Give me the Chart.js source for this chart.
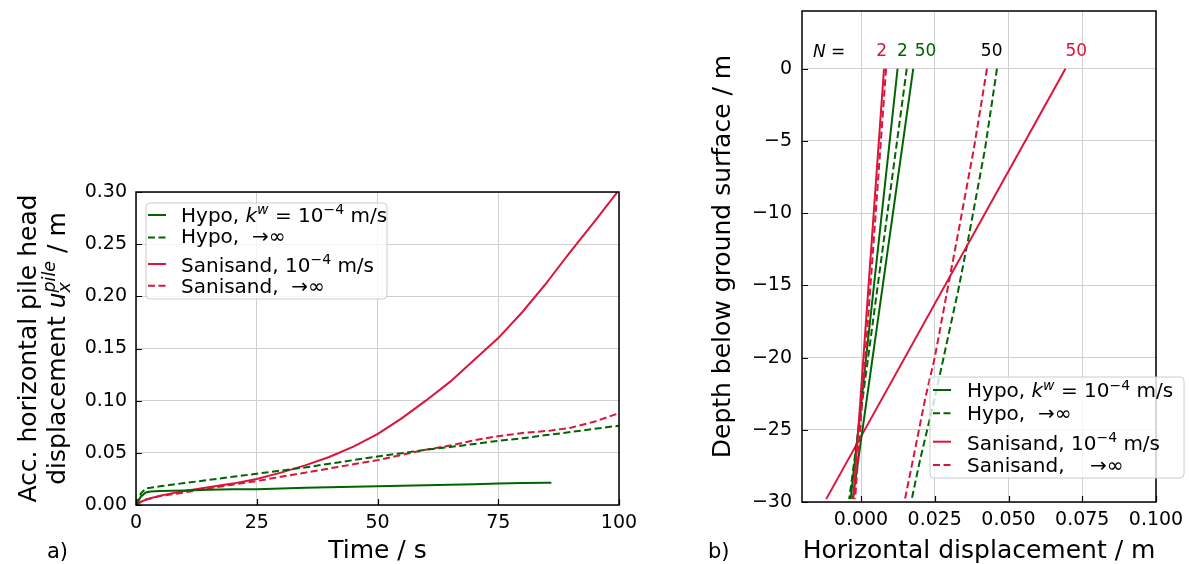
<!DOCTYPE html>
<html><head><meta charset="utf-8">
<script src="https://cdn.jsdelivr.net/npm/chart.js@4"></script>
<style>
html,body{margin:0;padding:0;background:#fff;}
#wrap{position:relative;width:1189px;height:564px;overflow:hidden;}
canvas{position:absolute;left:0;top:0;}
</style></head><body>
<div id="wrap"><canvas id="ca" width="1189" height="564"></canvas><canvas id="cb" width="1189" height="564"></canvas></div>
<script>
// ---------- data: panel a) ----------
const TIME     = [0,1,2,3,5,10,15,20,25,30,35,40,45,50,55,60,65,70,75,80,85,86,90,95,100];
const HYPO_KW  = [0,0.008,0.012,0.013,0.0135,0.014,0.0145,0.015,0.0152,0.0158,0.0165,0.017,0.0175,0.018,0.0185,0.019,0.0195,0.020,0.0205,0.021,0.0213,0.0214,null,null,null];
const HYPO_INF = [0,0.011,0.016,0.0165,0.018,0.021,0.024,0.027,0.030,0.033,0.036,0.0395,0.043,0.0465,0.0497,0.053,0.0555,0.0585,0.0615,0.064,0.067,0.0675,0.070,0.073,0.076];
const SANI_KW  = [0,0.003,0.005,0.0065,0.009,0.0135,0.017,0.0205,0.025,0.031,0.038,0.046,0.056,0.068,0.083,0.100,0.118,0.139,0.160,0.185,0.213,0.219,0.243,0.272,0.302];
const SANI_INF = [0,0.003,0.005,0.0063,0.0085,0.012,0.016,0.0195,0.023,0.027,0.031,0.035,0.039,0.043,0.048,0.053,0.057,0.062,0.066,0.069,0.071,0.0715,0.074,0.080,0.088];
const TIME_TICKS = [0,25,50,75,100];
const DISP_TICKS = [0,0.05,0.10,0.15,0.20,0.25,0.30];

// ---------- data: panel b) ----------
const DEPTH_PILE   = [0,-29.8];
const SANI_KW_N2   = [0.0078,-0.0026];
const SANI_INF_N2  = [0.0085,-0.0020];
const HYPO_KW_N2   = [0.0124,-0.0035];
const HYPO_INF_N2  = [0.0155,-0.0040];
const HYPO_KW_N50  = [0.0177,-0.0028];
const SANI_KW_N50  = [0.0693,-0.0118];
const DEPTH_N50    = [0,-5.6,-11.85,-15.3,-20,-22.8,-27.1,-29.8];
const HYPO_INF_N50 = [0.0461,0.0420,0.0363,0.0330,0.0280,0.0250,0.0200,0.0172];
const SANI_INF_N50 = [0.0427,0.0382,0.0325,0.0293,0.0250,0.0218,0.0176,0.0149];
const HDISP_TICKS  = [0,0.025,0.05,0.075,0.1];
const DEPTH_TICKS  = [0,-5,-10,-15,-20,-25,-30];

// ---------- styles ----------
const GREEN = '#006400', RED = '#dc143c';
const FONT = '"DejaVu Sans", sans-serif';
const DASH = [7,3.5];
const LW = 2;
Chart.defaults.font.family = FONT;
Chart.defaults.color = '#000';

function pts(xs, ys){ return xs.map((x,i)=>({x:x, y:ys[i]})); }
function ptsY(ys, xs){ return ys.map((y,i)=>({x:xs[i], y:y})); }

function segFont(s, size){ return (s.i?'italic ':'') + size + 'px ' + FONT; }
function richWidth(ctx, segs, size){
  let w = 0;
  for (const s of segs){
    if (s.stack){ ctx.font = segFont({i:true}, size*0.7);
      w += Math.max(ctx.measureText(s.stack[0]).width, ctx.measureText(s.stack[1]).width); }
    else { ctx.font = segFont(s, (s.sup||s.sub)? size*0.7 : size); w += ctx.measureText(s.t).width; }
  }
  return w;
}
function drawRich(ctx, segs, x, y, size, color, align){
  const w = richWidth(ctx, segs, size);
  let cx = align==='center' ? x-w/2 : (align==='right' ? x-w : x);
  ctx.fillStyle = color; ctx.textAlign='left'; ctx.textBaseline='alphabetic';
  for (const s of segs){
    if (s.stack){
      ctx.font = segFont({i:true}, size*0.7);
      ctx.fillText(s.stack[0], cx, y - size*0.42);
      ctx.fillText(s.stack[1], cx, y + size*0.2);
      cx += Math.max(ctx.measureText(s.stack[0]).width, ctx.measureText(s.stack[1]).width);
    } else {
      const fs = (s.sup||s.sub)? size*0.7 : size;
      ctx.font = segFont(s, fs);
      const dy = s.sup ? -size*0.38 : (s.sub ? size*0.2 : 0);
      ctx.fillText(s.t, cx, y+dy);
      cx += ctx.measureText(s.t).width;
    }
  }
}
function drawRotated(ctx, segs, x, y, size){
  ctx.save(); ctx.translate(x,y); ctx.rotate(-Math.PI/2);
  drawRich(ctx, segs, 0, 0, size, '#000', 'center'); ctx.restore();
}
function roundRect(ctx, x, y, w, h, r){
  ctx.beginPath(); ctx.moveTo(x+r,y); ctx.lineTo(x+w-r,y); ctx.arcTo(x+w,y,x+w,y+r,r);
  ctx.lineTo(x+w,y+h-r); ctx.arcTo(x+w,y+h,x+w-r,y+h,r); ctx.lineTo(x+r,y+h);
  ctx.arcTo(x,y+h,x,y+h-r,r); ctx.lineTo(x,y+r); ctx.arcTo(x,y,x+r,y,r); ctx.closePath();
}
function drawLegend(ctx, L){
  ctx.save();
  roundRect(ctx, L.x, L.y, L.w, L.h, 4);
  ctx.fillStyle='rgba(255,255,255,0.8)'; ctx.fill();
  ctx.strokeStyle='#cccccc'; ctx.lineWidth=1; ctx.stroke();
  for (const r of L.rows){
    ctx.beginPath(); ctx.strokeStyle=r.color; ctx.lineWidth=LW; ctx.setLineDash(r.dash||[]);
    ctx.moveTo(L.hx1, r.hy); ctx.lineTo(L.hx2, r.hy); ctx.stroke(); ctx.setLineDash([]);
    drawRich(ctx, r.segs, L.tx, r.by, 20, '#000', 'left');
  }
  ctx.restore();
}
const LABELS = {
  hkw:[{t:'Hypo, '},{t:'k',i:true},{t:'w',i:true,sup:true},{t:' = 10'},{t:'−4',sup:true},{t:' m/s'}],
  hinf:[{t:'Hypo,  →∞'}],
  skw:[{t:'Sanisand, 10'},{t:'−4',sup:true},{t:' m/s'}],
  sinf:[{t:'Sanisand,  →∞'}],
  sinf2:[{t:'Sanisand,    →∞'}]
};

function frameAndTicks(chart){
  const ctx = chart.ctx, a = chart.chartArea, xs = chart.scales.x, ys = chart.scales.y;
  ctx.save();
  ctx.strokeStyle='#000'; ctx.lineWidth=1.2; ctx.beginPath();
  xs.ticks.forEach(t=>{ const px = Math.round(xs.getPixelForValue(t.value))+0.5; ctx.moveTo(px,a.bottom); ctx.lineTo(px,a.bottom-6); });
  ys.ticks.forEach(t=>{ const py = Math.round(ys.getPixelForValue(t.value))+0.5; ctx.moveTo(a.left,py); ctx.lineTo(a.left+6,py); });
  ctx.stroke();
  ctx.lineWidth=1.5; ctx.strokeRect(a.left, a.top, a.right-a.left, a.bottom-a.top);
  ctx.restore();
}
function fixAxis(size, isY){
  return function(scale){
    if (isY) scale.width = size; else scale.height = size;
    scale.paddingTop = 0; scale.paddingBottom = 0; scale.paddingLeft = 0; scale.paddingRight = 0;
  };
}
function setTicks(list){ return function(scale){ scale.ticks = list.map(v=>({value:v})); }; }

// ---------- chart a) ----------
const plugA = {
  id:'plugA',
  afterDatasetsDraw(chart){ frameAndTicks(chart); },
  afterDraw(chart){
    const ctx = chart.ctx;
    drawLegend(ctx, {x:146,y:203,w:241,h:96,hx1:148,hx2:166,tx:181,rows:[
      {color:GREEN,hy:215,by:222,segs:LABELS.hkw},
      {color:GREEN,dash:DASH,hy:237.5,by:243,segs:LABELS.hinf},
      {color:RED,hy:264,by:271.5,segs:LABELS.skw},
      {color:RED,dash:DASH,hy:285.7,by:292.5,segs:LABELS.sinf}]});
    const a = chart.chartArea;
    drawRotated(ctx, [{t:'Acc. horizontal pile head'}], 36, (a.top+a.bottom)/2, 25);
    drawRotated(ctx, [{t:'displacement '},{t:'u',i:true},{stack:['pile','x']},{t:' / m'}], 65, (a.top+a.bottom)/2, 25);
    drawRich(ctx, [{t:'Time / s'}], (a.left+a.right)/2, 558, 25, '#000', 'center');
    drawRich(ctx, [{t:'a)'}], 47, 558, 21, '#000', 'left');
  }
};
new Chart(document.getElementById('ca'), {
  type:'line',
  data:{ datasets:[
    {data:pts(TIME,HYPO_KW), borderColor:GREEN, borderWidth:LW, spanGaps:false},
    {data:pts(TIME,HYPO_INF), borderColor:GREEN, borderWidth:LW, borderDash:DASH},
    {data:pts(TIME,SANI_KW), borderColor:RED, borderWidth:LW},
    {data:pts(TIME,SANI_INF), borderColor:RED, borderWidth:LW, borderDash:DASH}
  ]},
  options:{
    responsive:false, animation:false, devicePixelRatio:1,
    layout:{padding:{left:0,top:192,right:570,bottom:0}},
    elements:{point:{radius:0}, line:{tension:0}},
    plugins:{legend:{display:false}, tooltip:{enabled:false}},
    scales:{
      x:{type:'linear', min:0, max:100, afterBuildTicks:setTicks(TIME_TICKS), afterFit:fixAxis(59,false),
         grid:{color:'#d0d0d0', lineWidth:1, drawTicks:false}, border:{display:false},
         ticks:{font:{size:19}, padding:7, autoSkip:false, maxRotation:0, color:'#000'}},
      y:{type:'linear', min:0, max:0.30, afterBuildTicks:setTicks(DISP_TICKS), afterFit:fixAxis(136,true),
         grid:{color:'#d0d0d0', lineWidth:1, drawTicks:false}, border:{display:false},
         ticks:{font:{size:19}, padding:9, autoSkip:false, color:'#000', callback:v=>v.toFixed(2)}}
    }
  },
  plugins:[plugA]
});

// ---------- chart b) ----------
const plugB = {
  id:'plugB',
  afterDatasetsDraw(chart){ frameAndTicks(chart); },
  afterDraw(chart){
    const ctx = chart.ctx, xs = chart.scales.x, ys = chart.scales.y, a = chart.chartArea;
    const yy = ys.getPixelForValue(1.2);
    ctx.save(); ctx.textBaseline='middle'; ctx.textAlign='center';
    const ann = [['2',0.0070,RED],['2',0.0140,GREEN],['50',0.0219,GREEN],['50',0.0443,'#000'],['50',0.0730,RED]];
    ctx.font = '17px '+FONT;
    ann.forEach(n=>{ ctx.fillStyle=n[2]; ctx.fillText(n[0], xs.getPixelForValue(n[1]), yy); });
    ctx.restore();
    drawRich(ctx, [{t:'N',i:true},{t:' ='}], xs.getPixelForValue(-0.0108), yy+6, 17, '#000', 'center');
    drawLegend(ctx, {x:930,y:377,w:254,h:101,hx1:933,hx2:951,tx:967,rows:[
      {color:GREEN,hy:390,by:397.3,segs:LABELS.hkw},
      {color:GREEN,dash:DASH,hy:413.3,by:420,segs:LABELS.hinf},
      {color:RED,hy:441.7,by:450,segs:LABELS.skw},
      {color:RED,dash:DASH,hy:465,by:471.7,segs:LABELS.sinf2}]});
    drawRotated(ctx, [{t:'Depth below ground surface / m'}], 730, (a.top+a.bottom)/2, 25);
    drawRich(ctx, [{t:'Horizontal displacement / m'}], (a.left+a.right)/2, 558, 25, '#000', 'center');
    drawRich(ctx, [{t:'b)'}], 708, 558, 21, '#000', 'left');
  }
};
const fmtDepth = v => v<0 ? '−'+Math.abs(v) : String(v);
new Chart(document.getElementById('cb'), {
  type:'line',
  data:{ datasets:[
    {data:ptsY(DEPTH_PILE,SANI_KW_N2), borderColor:RED, borderWidth:LW},
    {data:ptsY(DEPTH_PILE,SANI_INF_N2), borderColor:RED, borderWidth:LW, borderDash:DASH},
    {data:ptsY(DEPTH_PILE,HYPO_KW_N2), borderColor:GREEN, borderWidth:LW},
    {data:ptsY(DEPTH_PILE,HYPO_INF_N2), borderColor:GREEN, borderWidth:LW, borderDash:DASH},
    {data:ptsY(DEPTH_PILE,HYPO_KW_N50), borderColor:GREEN, borderWidth:LW},
    {data:ptsY(DEPTH_PILE,SANI_KW_N50), borderColor:RED, borderWidth:LW},
    {data:ptsY(DEPTH_N50,HYPO_INF_N50), borderColor:GREEN, borderWidth:LW, borderDash:DASH},
    {data:ptsY(DEPTH_N50,SANI_INF_N50), borderColor:RED, borderWidth:LW, borderDash:DASH}
  ]},
  options:{
    responsive:false, animation:false, devicePixelRatio:1,
    layout:{padding:{left:700,top:11,right:33,bottom:0}},
    elements:{point:{radius:0}, line:{tension:0}},
    plugins:{legend:{display:false}, tooltip:{enabled:false}},
    scales:{
      x:{type:'linear', min:-0.02, max:0.1, afterBuildTicks:setTicks(HDISP_TICKS), afterFit:fixAxis(62,false),
         grid:{color:'#d0d0d0', lineWidth:1, drawTicks:false}, border:{display:false},
         ticks:{font:{size:19}, padding:7, autoSkip:false, maxRotation:0, color:'#000', callback:v=>v.toFixed(3)}},
      y:{type:'linear', min:-30, max:4, afterBuildTicks:setTicks(DEPTH_TICKS), afterFit:fixAxis(102,true),
         grid:{color:'#d0d0d0', lineWidth:1, drawTicks:false}, border:{display:false},
         ticks:{font:{size:19}, padding:10, autoSkip:false, color:'#000', callback:fmtDepth}}
    }
  },
  plugins:[plugB]
});
</script>
</body></html>
